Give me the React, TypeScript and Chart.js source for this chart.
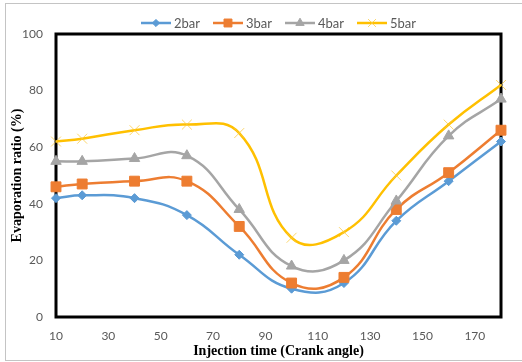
import React, { useEffect, useRef } from "react";
import { Chart, registerables } from "chart.js";

Chart.register(...registerables);

// ---- data ----
const injectionAngles = [10, 20, 40, 60, 80, 100, 120, 140, 160, 180];
const seriesLabels = ["2bar", "3bar", "4bar", "5bar"];
const bar2 = [42, 43, 42, 36, 22, 10, 12, 34, 48, 62];
const bar3 = [46, 47, 48, 48, 32, 12, 14, 38, 51, 66];
const bar4 = [55, 55, 56, 57, 38, 18, 20, 41, 64, 77];
const bar5 = [62, 63, 66, 68, 65, 28, 30, 50, 68, 82];
const xTickValues = [10, 30, 50, 70, 90, 110, 130, 150, 170];
const yTickValues = [0, 20, 40, 60, 80, 100];
const xTitle = "Injection time (Crank angle)";
const yTitle = "Evaporation ratio (%)";

// ---- styles ----
const STYLES = [
  { color: "#5B9BD5", marker: "rectRot", radius: 4.5, markerColor: "#5B9BD5", markerWidth: 1 },
  { color: "#ED7D31", marker: "rect", radius: 7, markerColor: "#ED7D31", markerWidth: 1 },
  { color: "#A5A5A5", marker: "triangle", radius: 6, markerColor: "#A5A5A5", markerWidth: 1 },
  { color: "#FFC000", marker: "crossRot", radius: 7, markerColor: "rgba(250,200,60,0.75)", markerWidth: 1 },
];

function drawMarker(ctx: CanvasRenderingContext2D, style: string, x: number, y: number, r: number, fill: string, stroke: string, lw: number) {
  ctx.save();
  ctx.fillStyle = fill;
  ctx.strokeStyle = stroke;
  ctx.lineWidth = lw;
  ctx.beginPath();
  if (style === "rectRot") {
    ctx.moveTo(x, y - r);
    ctx.lineTo(x + r, y);
    ctx.lineTo(x, y + r);
    ctx.lineTo(x - r, y);
    ctx.closePath();
    ctx.fill();
    ctx.stroke();
  } else if (style === "rect") {
    const s = r * Math.SQRT1_2;
    ctx.rect(x - s, y - s, 2 * s, 2 * s);
    ctx.fill();
    ctx.stroke();
  } else if (style === "triangle") {
    let a = 0;
    ctx.moveTo(x + Math.sin(a) * r, y - Math.cos(a) * r);
    a += (2 * Math.PI) / 3;
    ctx.lineTo(x + Math.sin(a) * r, y - Math.cos(a) * r);
    a += (2 * Math.PI) / 3;
    ctx.lineTo(x + Math.sin(a) * r, y - Math.cos(a) * r);
    ctx.closePath();
    ctx.fill();
    ctx.stroke();
  } else {
    const d = r * Math.SQRT1_2;
    ctx.moveTo(x - d, y - d);
    ctx.lineTo(x + d, y + d);
    ctx.moveTo(x - d, y + d);
    ctx.lineTo(x + d, y - d);
    ctx.stroke();
  }
  ctx.restore();
}

const framePlugin = {
  id: "frame",
  beforeDraw(chart: any) {
    const ctx = chart.ctx as CanvasRenderingContext2D;
    ctx.save();
    ctx.fillStyle = "#ffffff";
    ctx.fillRect(0, 0, chart.width, chart.height);
    ctx.strokeStyle = "#C4C4C4";
    ctx.lineWidth = 1;
    ctx.strokeRect(5.5, 3.5, chart.width + 10, 357);
    ctx.restore();
  },
  beforeDatasetsDraw(chart: any) {
    const { left, top, right, bottom } = chart.chartArea;
    const ctx = chart.ctx as CanvasRenderingContext2D;
    ctx.save();
    ctx.strokeStyle = "#000000";
    ctx.lineWidth = 3;
    ctx.strokeRect(left, top, right - left, bottom - top);
    ctx.restore();
  },
};

const legendPlugin = {
  id: "lineLegend",
  afterDraw(chart: any) {
    const ctx = chart.ctx as CanvasRenderingContext2D;
    const area = chart.chartArea;
    const lineLen = 30;
    const gap = 3;
    const spacing = 13;
    const y = 23;
    ctx.save();
    ctx.font = "13px Lato";
    ctx.textBaseline = "middle";
    ctx.textAlign = "left";
    const items = chart.data.datasets.map((ds: any, i: number) => ({
      ds,
      st: STYLES[i],
      w: ctx.measureText(ds.label).width,
    }));
    const total =
      items.reduce((s: number, it: any) => s + lineLen + gap + it.w, 0) + spacing * (items.length - 1);
    let x = (area.left + area.right) / 2 - total / 2;
    items.forEach(({ ds, st, w }: any) => {
      ctx.strokeStyle = st.color;
      ctx.lineWidth = 2.5;
      ctx.beginPath();
      ctx.moveTo(x, y);
      ctx.lineTo(x + lineLen, y);
      ctx.stroke();
      drawMarker(ctx, st.marker, x + lineLen / 2, y, st.radius * 0.8, st.color, st.markerColor, st.markerWidth);
      ctx.fillStyle = "#595959";
      ctx.fillText(ds.label, x + lineLen + gap, y + 0.5);
      x += lineLen + gap + w + spacing;
    });
    ctx.restore();
  },
};

export default function App() {
  const ref = useRef<HTMLCanvasElement>(null);

  useEffect(() => {
    const canvas = ref.current;
    if (!canvas) return;
    const allSeries = [bar2, bar3, bar4, bar5];
    const datasets = allSeries.map((vals, i) => {
      const st = STYLES[i];
      return {
        label: seriesLabels[i],
        data: injectionAngles.map((a, j) => ({ x: a, y: vals[j] })),
        borderColor: st.color,
        backgroundColor: st.color,
        borderWidth: 2.5,
        tension: 0.45,
        pointStyle: st.marker,
        pointRadius: st.radius,
        pointBackgroundColor: st.color,
        pointBorderColor: st.markerColor,
        pointBorderWidth: st.markerWidth,
        clip: false as any,
        order: allSeries.length - i,
      };
    });

    const tickFont = { family: "Lato", size: 12 };
    const titleFont = { family: "Liberation Serif", size: 14, weight: "bold" as const };

    const chart = new Chart(canvas, {
      type: "line",
      data: { datasets },
      options: {
        responsive: false,
        animation: false,
        events: [],
        layout: { padding: { top: 34, right: 21, left: 0, bottom: 0 } },
        plugins: {
          legend: { display: false },
          tooltip: { enabled: false },
        },
        scales: {
          x: {
            type: "linear",
            min: 10,
            max: 180,
            afterBuildTicks: (s: any) => {
              s.ticks = xTickValues.map((v) => ({ value: v }));
            },
            afterFit: (s: any) => {
              s.height = 45;
            },
            grid: { display: false, drawTicks: false },
            border: { display: false },
            ticks: { padding: 12, color: "#595959", font: tickFont, maxRotation: 0, autoSkip: false },
            title: {
              display: true,
              text: xTitle,
              color: "#000000",
              font: titleFont,
              padding: { top: 0, bottom: 2 },
            },
          },
          y: {
            type: "linear",
            min: 0,
            max: 100,
            afterBuildTicks: (s: any) => {
              s.ticks = yTickValues.map((v) => ({ value: v }));
            },
            afterFit: (s: any) => {
              s.width = 56;
            },
            grid: { display: false, drawTicks: false },
            border: { display: false },
            ticks: { padding: 13, color: "#595959", font: tickFont },
            title: {
              display: true,
              text: yTitle,
              color: "#000000",
              font: titleFont,
              padding: { top: 9, bottom: 0 },
            },
          },
        },
      },
      plugins: [framePlugin, legendPlugin],
    } as any);

    return () => chart.destroy();
  }, []);

  return (
    <div style={{ position: "absolute", left: 0, top: 0, width: 522, height: 362, background: "#fff" }}>
      <canvas ref={ref} width={522} height={362} style={{ display: "block", width: 522, height: 362 }} />
    </div>
  );
}
